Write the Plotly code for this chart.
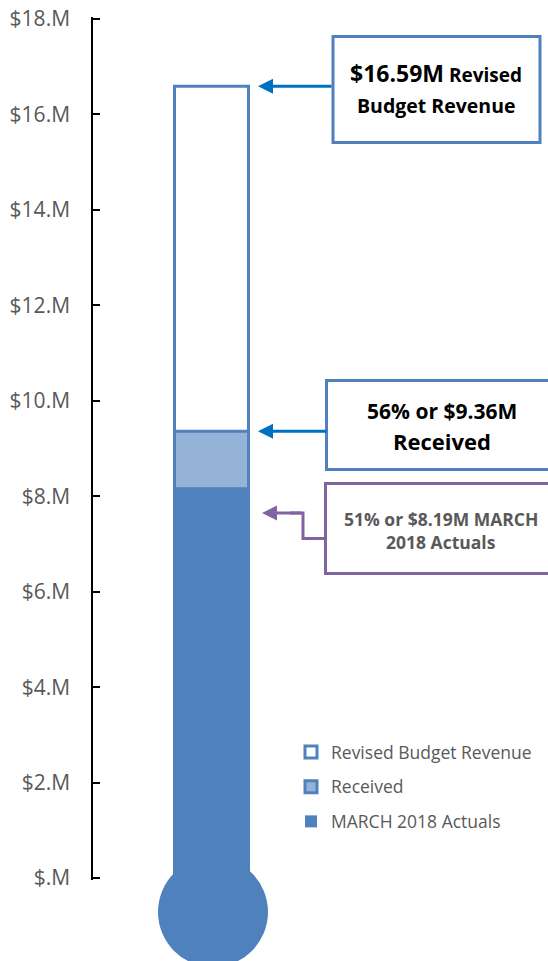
import plotly.graph_objects as go

# ---------------- data ----------------
series_names = ["Revised Budget Revenue", "Received", "MARCH 2018 Actuals"]
series_values = [16.59, 9.36, 8.19]          # $ millions
pct_labels = ["56%", "51%"]                  # as printed on the chart
tick_values = [0, 2, 4, 6, 8, 10, 12, 14, 16, 18]
tick_labels = ["$.M", "$2.M", "$4.M", "$6.M", "$8.M", "$10.M",
               "$12.M", "$14.M", "$16.M", "$18.M"]

# ---------------- styles ----------------
BLUE = "#4F81BD"
LIGHT = "#95B3D7"
ARROW_BLUE = "#0070C0"
PURPLE = "#8064A2"
GRAY = "#595959"
FONT = "Open Sans"

fills = ["#FFFFFF", LIGHT, BLUE]
line_widths = [3, 3, 0]

W, H = 548, 961
L, R, T, B = 93, 0, 17, 81
PW, PH = W - L - R, H - T - B
Y_PAD = 0.04   # tiny range padding so the end ticks are drawn


def px(x):
    return (x - L) / PW


def py(y):
    return (H - B - y) / PH


bar_center_px = 211.5
bar_width_px = 74
x_lo = -(bar_center_px - L) / PW
x_range = [x_lo, x_lo + 1]
bar_w = bar_width_px / PW

fig = go.Figure()
for i, (name, val) in enumerate(zip(series_names, series_values)):
    fig.add_trace(go.Bar(
        x=[0], y=[val], width=[bar_w], base=0, name=name,
        legendgroup=f"g{i}",
        marker=dict(color=fills[i], line=dict(color=BLUE, width=line_widths[i])),
        hoverinfo="skip",
    ))

# thermometer bulb
fig.add_shape(type="circle", xref="x", yref="paper",
              xsizemode="pixel", ysizemode="pixel",
              xanchor=(213 - bar_center_px) / PW, yanchor=py(912),
              x0=-55, x1=55, y0=-55, y1=55,
              fillcolor=BLUE, line=dict(width=0), layer="above")

# callout boxes
boxes = [
    (333, 36.5, 540, 142.5, BLUE),
    (326.5, 380.5, 556, 469.5, BLUE),
    (325.5, 483.5, 557, 573.5, PURPLE),
]
for x0, y0, x1, y1, col in boxes:
    fig.add_shape(type="rect", xref="paper", yref="paper",
                  x0=px(x0), x1=px(x1), y0=py(y1), y1=py(y0),
                  line=dict(color=col, width=3), fillcolor="white")

# elbow connector for the actuals callout
fig.add_shape(type="path", xref="paper", yref="paper",
              path=f"M{px(326)},{py(538.5)} L{px(303)},{py(538.5)} "
                   f"L{px(303)},{py(513)} L{px(290)},{py(513)}",
              line=dict(color=PURPLE, width=3))

ann = []
# arrows
ann.append(dict(x=px(258), y=series_values[0], xref="paper", yref="y",
                ax=75, ay=0, text="", showarrow=True, arrowhead=2,
                arrowsize=1, arrowwidth=3, arrowcolor=ARROW_BLUE))
ann.append(dict(x=px(258), y=series_values[1], xref="paper", yref="y",
                ax=70, ay=0, text="", showarrow=True, arrowhead=2,
                arrowsize=1, arrowwidth=3, arrowcolor=ARROW_BLUE))
ann.append(dict(x=px(262), y=py(513), xref="paper", yref="paper",
                ax=41, ay=0, text="", showarrow=True, arrowhead=2,
                arrowsize=1, arrowwidth=3, arrowcolor=PURPLE))

# callout texts
def txt(x, y, text, size, color="black"):
    return dict(x=px(x), y=py(y), xref="paper", yref="paper", text=text,
                showarrow=False, xanchor="center", yanchor="middle",
                font=dict(family=FONT, size=size, color=color, weight="bold"))

ann.append(txt(436, 73,
               f"<span style='font-size:23px'>${series_values[0]:.2f}M</span> Revised", 19))
ann.append(txt(436, 106, "Budget Revenue", 19.5))
ann.append(txt(441.5, 411.5, f"{pct_labels[0]} or ${series_values[1]:.2f}M", 21))
ann.append(txt(441.5, 440.5, series_names[1], 22))
ann.append(txt(441, 518.5, f"{pct_labels[1]} or ${series_values[2]:.2f}M MARCH", 17.5, GRAY))
ann.append(txt(441, 542.5, "2018 Actuals", 17.5, GRAY))

fig.update_layout(
    width=W, height=H,
    margin=dict(l=L, r=R, t=T, b=B, pad=0),
    paper_bgcolor="white", plot_bgcolor="white",
    barmode="overlay",
    showlegend=True,
    legend=dict(x=px(291), y=py(734), xanchor="left", yanchor="top",
                bgcolor="rgba(0,0,0,0)", tracegroupgap=9,
                font=dict(family=FONT, size=17.5, color=GRAY)),
    xaxis=dict(range=x_range, visible=False, fixedrange=True),
    yaxis=dict(range=[tick_values[0] - Y_PAD, tick_values[-1] + Y_PAD],
               tickvals=tick_values, ticktext=tick_labels,
               showgrid=False, zeroline=False, showline=True,
               linecolor="black", linewidth=1.5,
               ticks="inside", ticklen=7, tickwidth=1.5, tickcolor="black",
               ticklabelstandoff=17,
               tickfont=dict(family=FONT, size=21, color=GRAY),
               fixedrange=True),
    annotations=ann,
    font=dict(family=FONT),
)

fig.write_html("out.html", config={"displayModeBar": False},
               post_script="document.body.style.margin='0';"
                           "document.body.style.overflow='hidden';")
